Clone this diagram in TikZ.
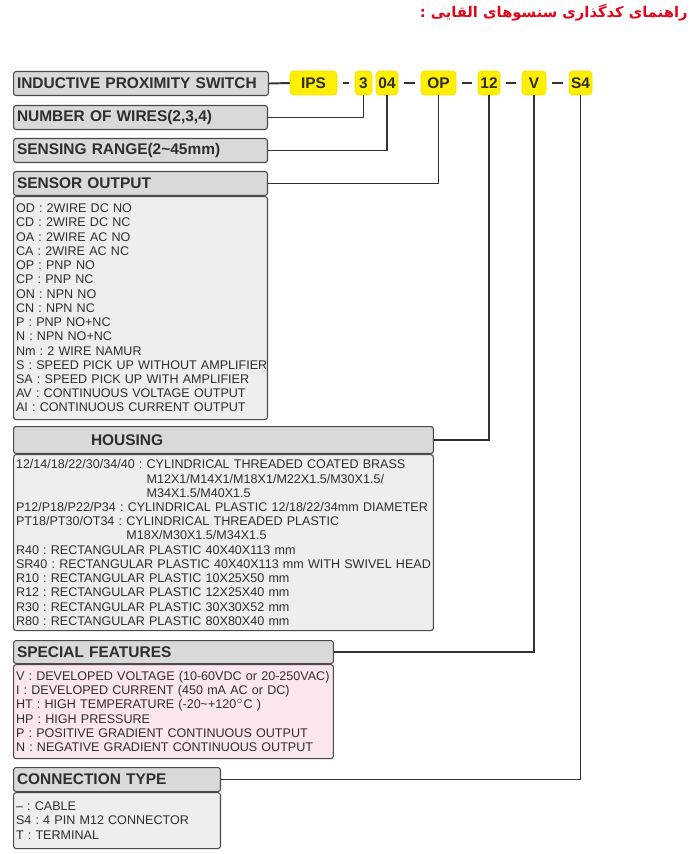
\documentclass[tikz,border=0pt]{standalone}
\usepackage{fontspec}
\setmainfont{Liberation Sans}
\newfontfamily\farsifont[Script=Arabic]{DejaVu Sans}
\TeXXeTstate=1
\frenchspacing
\definecolor{hdrgray}{HTML}{D9D9DB}
\definecolor{descgray}{HTML}{EEEEF0}
\definecolor{descpink}{HTML}{FCE6EE}
\definecolor{boxline}{HTML}{4A4A4A}
\definecolor{linkgray}{HTML}{333333}
\definecolor{textdark}{HTML}{2E2E2E}
\definecolor{codeyellow}{HTML}{FFEF00}
\definecolor{titlered}{HTML}{E3061A}
\tikzset{
  hdr/.style={draw=boxline, fill=hdrgray, line width=0.6pt, rounded corners=1.5pt, anchor=north west,
    minimum height=0.48cm, inner xsep=0.07cm, inner ysep=0pt, align=left, text=textdark,
    font=\fontsize{8.8}{10}\selectfont\bfseries},
  desc/.style={draw=boxline, fill=descgray, line width=0.6pt, rounded corners=1.5pt, anchor=north west,
    inner xsep=0.05cm, inner ysep=0pt, align=left, text=textdark,
    font=\fontsize{7.15}{8.1}\selectfont},
  code/.style={fill=codeyellow, draw=codeyellow!80!orange, line width=0.3pt, rounded corners=2pt,
    minimum height=0.48cm, inner sep=0pt, text=textdark, font=\fontsize{8.8}{10}\selectfont\bfseries},
  link/.style={draw=linkgray, line width=1.1pt},
  dashlink/.style={link, shorten <=0.11cm, shorten >=0.11cm}
}
\begin{document}
\begin{tikzpicture}[x=0.02cm, y=-0.02cm]
    \useasboundingbox (0,0) rectangle (694,854);

    \node[anchor=east, inner sep=0pt, text=titlered, font=\farsifont\bfseries\fontsize{8.4}{11}\selectfont] (title) at (688,13)
        {\beginR راهنمای کدگذاری سنسوهای القایی :\endR};

    % code row
    \node[hdr, text width=4.96cm] (inductive) at (13,71) {INDUCTIVE PROXIMITY SWITCH};
    \node[code, minimum width=0.94cm] (ips) at (313.5,83) {IPS};
    \node[code, minimum width=0.34cm] (n3) at (363.5,83) {3};
    \node[code, minimum width=0.44cm] (n04) at (387,83) {04};
    \node[code, minimum width=0.70cm] (op) at (438.5,83) {OP};
    \node[code, minimum width=0.44cm] (n12) at (489,83) {12};
    \node[code, minimum width=0.48cm] (v) at (534,83) {V};
    \node[code, minimum width=0.46cm] (s4) at (580.5,83) {S4};

    \draw[link] (inductive.east) -- (ips.west);
    \draw[dashlink] (ips) -- (n3);
    \draw[dashlink] (n04) -- (op);
    \draw[dashlink] (op) -- (n12);
    \draw[dashlink] (n12) -- (v);
    \draw[dashlink] (v) -- (s4);

    % left column
    \node[hdr, text width=4.94cm] (wires) at (13,105) {NUMBER OF WIRES(2,3,4)};
    \node[hdr, text width=4.94cm] (range) at (13,138) {SENSING RANGE(2\textasciitilde45mm)};
    \node[hdr, text width=4.94cm] (output) at (13,171) {SENSOR OUTPUT};
    \node[desc, text width=4.98cm, minimum height=4.46cm] (outputlist) at (output.south west) {%
        OD : 2WIRE DC NO\\
        CD : 2WIRE DC NC\\
        OA : 2WIRE AC NO\\
        CA : 2WIRE AC NC\\
        OP : PNP NO\\
        CP : PNP NC\\
        ON : NPN NO\\
        CN : NPN NC\\
        P : PNP NO+NC\\
        N : NPN NO+NC\\
        Nm : 2 WIRE NAMUR\\
        \mbox{S : SPEED PICK UP WITHOUT AMPLIFIER}\\
        SA : SPEED PICK UP WITH AMPLIFIER\\
        AV : CONTINUOUS VOLTAGE OUTPUT\\
        AI : CONTINUOUS CURRENT OUTPUT};

    \node[hdr, text width=8.26cm, minimum height=0.54cm] (housing) at (13,426) {\hspace*{1.48cm}HOUSING};
    \node[desc, text width=8.30cm, minimum height=3.52cm] (housinglist) at (housing.south west) {%
        12/14/18/22/30/34/40 : CYLINDRICAL THREADED COATED BRASS\\
        \phantom{12/14/18/22/30/34/40 : }M12X1/M14X1/M18X1/M22X1.5/M30X1.5/\\
        \phantom{12/14/18/22/30/34/40 : }M34X1.5/M40X1.5\\
        \mbox{P12/P18/P22/P34 : CYLINDRICAL PLASTIC 12/18/22/34mm DIAMETER}\\
        PT18/PT30/OT34 : CYLINDRICAL THREADED PLASTIC\\
        \phantom{PT18/PT30/OT34 : }M18X/M30X1.5/M34X1.5\\
        R40 : RECTANGULAR PLASTIC 40X40X113 mm\\
        \mbox{SR40 : RECTANGULAR PLASTIC 40X40X113 mm WITH SWIVEL HEAD}\\
        R10 : RECTANGULAR PLASTIC 10X25X50 mm\\
        R12 : RECTANGULAR PLASTIC 12X25X40 mm\\
        R30 : RECTANGULAR PLASTIC 30X30X52 mm\\
        R80 : RECTANGULAR PLASTIC 80X80X40 mm};

    \node[hdr, text width=6.26cm, minimum height=0.46cm] (special) at (13,640) {SPECIAL FEATURES};
    \node[desc, fill=descpink, text width=6.30cm, minimum height=1.88cm] (speciallist) at (special.south west) {%
        \mbox{V : DEVELOPED VOLTAGE (10-60VDC or 20-250VAC)}\\
        I : DEVELOPED CURRENT (450 mA AC or DC)\\
        HT : HIGH TEMPERATURE (-20\textasciitilde+120$^{\circ}$C )\\
        HP : HIGH PRESSURE\\
        P : POSITIVE GRADIENT CONTINUOUS OUTPUT\\
        N : NEGATIVE GRADIENT CONTINUOUS OUTPUT};

    \node[hdr, text width=4.00cm] (conn) at (13,767) {CONNECTION TYPE};
    \node[desc, text width=4.04cm, minimum height=1.12cm] (connlist) at (conn.south west) {%
        \textendash\ : CABLE\\
        S4 : 4 PIN M12 CONNECTOR\\
        T : TERMINAL};

    % connectors from the code to each header
    \draw[link] (n3.south) |- (wires.east);
    \draw[link] (n04.south) |- (range.east);
    \draw[link] (op.south) |- (output.east);
    \draw[link] (n12.south) |- (housing.east);
    \draw[link] (v.south) |- (special.east);
    \draw[link] (s4.south) |- (conn.east);
\end{tikzpicture}
\end{document}
